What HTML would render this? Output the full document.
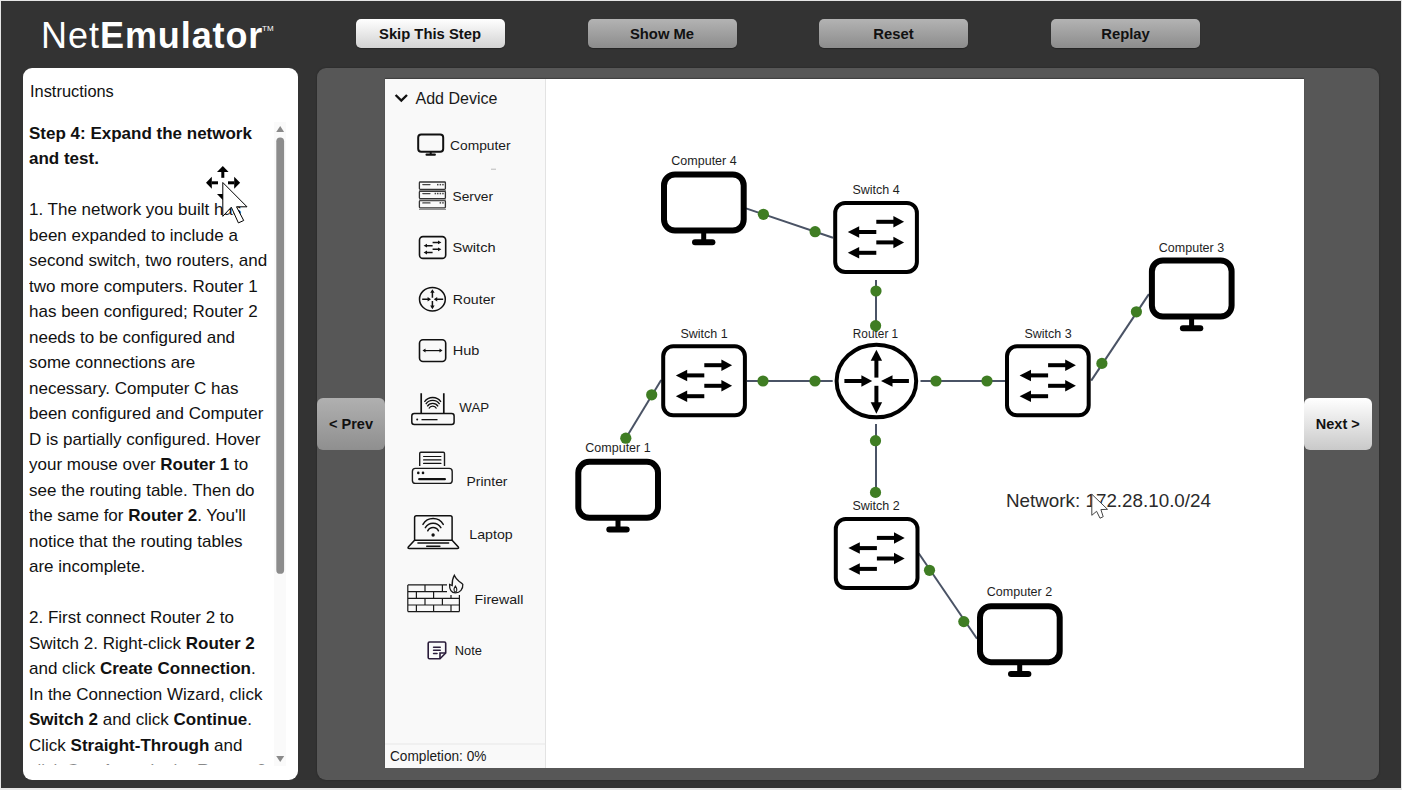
<!DOCTYPE html>
<html><head><meta charset="utf-8">
<style>
*{margin:0;padding:0;box-sizing:border-box}
html,body{width:1402px;height:790px;overflow:hidden;background:#e6e6e6}
body{font-family:"Liberation Sans",sans-serif;position:relative}
.page{position:absolute;left:1px;top:1px;width:1400px;height:787px;background:#333333}
.abs{position:absolute}
.logo{position:absolute;left:41px;top:13.8px;color:#fff;font-size:36px;line-height:44px;white-space:nowrap}
.logo .n{font-weight:normal;letter-spacing:1px}
.logo .e{font-weight:bold;letter-spacing:0.9px}
.logo .tm{position:absolute;font-size:9px;line-height:9px;top:13px;font-weight:normal}
.btn{position:absolute;top:19px;width:149px;height:29px;border-radius:5px;font-weight:bold;font-size:14.8px;color:#111;text-align:center;line-height:31px;
 background:linear-gradient(#b3b3b3,#8c8c8c);box-shadow:0 1px 1px rgba(0,0,0,.3)}
.btn.w{background:linear-gradient(#ffffff,#d2d2d2)}
.instr{position:absolute;left:23px;top:68px;width:275px;height:712px;background:#fff;border-radius:9px}
.instr .title{position:absolute;left:7px;top:80px}
.main{position:absolute;left:317px;top:68px;width:1062px;height:712px;background:#575757;border-radius:9px;box-shadow:0 0 2px rgba(0,0,0,.35)}
.canvas{position:absolute;left:385px;top:79px;width:919px;height:689.2px;background:#fff;box-shadow:0 -1px 1px rgba(0,0,0,.25)}
.side{position:absolute;left:385px;top:79px;width:161px;height:689.2px;background:#f9f9f9;border-right:1px solid #e3e3e3}
.txt{position:absolute;left:29px;top:120.6px;width:246px;height:644.4px;overflow:hidden;font-size:17px;line-height:25.5px;color:#111;white-space:nowrap}
.navbtn{position:absolute;top:398px;height:52px;border-radius:6px;font-weight:bold;font-size:14.5px;color:#111;text-align:center;line-height:52px}
</style></head><body>
<div class="page"></div>
<div class="logo"><span class="n">Net</span><span class="e">Emulator</span></div>
<div class="abs" style="left:262px;top:25px;color:#fff;font-size:8px;line-height:8px">TM</div>

<div class="btn w" style="left:355.5px">Skip This Step</div>
<div class="btn" style="left:587.5px">Show Me</div>
<div class="btn" style="left:819px">Reset</div>
<div class="btn" style="left:1051px">Replay</div>

<div class="instr"></div>
<div class="abs" style="left:30px;top:80px;font-size:16.4px;line-height:22px;color:#111">Instructions</div>
<div class="txt">
<b>Step 4: Expand the network</b><br>
<b>and test.</b><br>
<br>
1. The network you built has<br>
been expanded to include a<br>
second switch, two routers, and<br>
two more computers. Router 1<br>
has been configured; Router 2<br>
needs to be configured and<br>
some connections are<br>
necessary. Computer C has<br>
been configured and Computer<br>
D is partially configured. Hover<br>
your mouse over <b>Router 1</b> to<br>
see the routing table. Then do<br>
the same for <b>Router 2</b>. You'll<br>
notice that the routing tables<br>
are incomplete.<br>
<br>
2. First connect Router 2 to<br>
Switch 2. Right-click <b>Router 2</b><br>
and click <b>Create Connection</b>.<br>
In the Connection Wizard, click<br>
<b>Switch 2</b> and click <b>Continue</b>.<br>
Click <b>Straight-Through</b> and<br>
click <b>Continue</b>. In the <b>Router 2</b><br>
</div>

<div class="abs" style="left:29px;top:764px;width:245px;height:1px;background:rgba(255,255,255,0.5)"></div>
<!--SCROLL--><div class="abs" style="left:274px;top:122px;width:12px;height:644px;background:#fafafa"></div>
<svg class="abs" style="left:0;top:0" width="1402" height="790" viewBox="0 0 1402 790">
<path d="M276.2 132 L280.2 126.1 L284.1 132Z" fill="#8a8a8a"/>
<rect x="276.3" y="137.4" width="7.8" height="436.4" rx="3.9" fill="#8c8c8c"/>
<path d="M276.2 756 L280.2 762 L284.2 756Z" fill="#8a8a8a"/>
</svg><!--/SCROLL-->
<div class="main"></div>
<div class="canvas"></div>
<div class="side"></div>

<!--SIDE--><svg class="abs" style="left:0;top:0" width="1402" height="790" viewBox="0 0 1402 790" font-family="Liberation Sans, sans-serif"><path d="M395.6 95 L401.3 100.6 L407 95" fill="none" stroke="#111" stroke-width="2.4"/><text x="415.5" y="103.5" font-size="16.4" fill="#1a1a1a" textLength="82" lengthAdjust="spacingAndGlyphs">Add Device</text><g fill="none" stroke="#111" stroke-width="2"><rect x="418.2" y="134.4" width="25" height="17.4" rx="3"/></g><rect x="429.7" y="152" width="2" height="2.5" fill="#111"/><rect x="425.5" y="153.6" width="10.4" height="2.2" rx="1" fill="#111"/><text x="450" y="149.5" font-size="13.5" fill="#1a1a1a" textLength="60.6" lengthAdjust="spacingAndGlyphs">Computer</text><rect x="491" y="168.7" width="5" height="1" fill="#bbb"/><g fill="none" stroke="#333" stroke-width="1.3"><rect x="419.4" y="182" width="26" height="7.3" rx="0.8"/><rect x="419.4" y="191.3" width="26" height="7.3" rx="0.8"/><rect x="419.4" y="200.6" width="26" height="7.3" rx="0.8"/></g><g fill="#444"><rect x="422.2" y="184.0" width="8.4" height="1.2" rx="0.6"/><rect x="422.2" y="193.0" width="8.4" height="1.2" rx="0.6"/><rect x="422.2" y="202.3" width="8.4" height="1.2" rx="0.6"/><rect x="437" y="183.9" width="1.5" height="1.5"/><rect x="439.6" y="183.9" width="1.5" height="1.5"/><rect x="442.2" y="183.9" width="1.5" height="1.5"/><rect x="434.6" y="192.8" width="1.5" height="1.5"/><rect x="437" y="192.8" width="1.5" height="1.5"/><rect x="439.6" y="192.8" width="1.5" height="1.5"/><rect x="442.2" y="192.8" width="1.5" height="1.5"/><rect x="439.6" y="202.1" width="1.5" height="1.5"/><rect x="442.2" y="202.1" width="1.5" height="1.5"/><rect x="419" y="208.8" width="27" height="1" fill="#777"/><rect x="419" y="199.4" width="27" height="1" fill="#777"/><rect x="419" y="190.1" width="27" height="1" fill="#777"/></g><text x="452.5" y="200.8" font-size="13.5" fill="#1a1a1a" textLength="40.5" lengthAdjust="spacingAndGlyphs">Server</text><rect x="419.5" y="236.6" width="26.2" height="21.8" rx="3.5" fill="none" stroke="#111" stroke-width="1.6"/><g fill="none" stroke="#111" stroke-width="1.5"><path d="M432.6 242.4 H438.5 M426.5 245.7 H432.6 M432.6 249.3 H438.5 M426.5 252.5 H432.6"/></g><g fill="#111"><path d="M438 240.5 L441.4 242.4 L438 244.3Z M427 243.8 L423.6 245.7 L427 247.6Z M438 247.4 L441.4 249.3 L438 251.2Z M427 250.6 L423.6 252.5 L427 254.4Z"/></g><text x="452.5" y="252" font-size="13.5" fill="#1a1a1a" textLength="43.1" lengthAdjust="spacingAndGlyphs">Switch</text><ellipse cx="432.4" cy="299.2" rx="12.9" ry="11.8" fill="none" stroke="#111" stroke-width="1.5"/><g stroke="#111" stroke-width="1.5"><path d="M432.4 291 V297.7 M432.4 300.9 V307.5 M422.2 299.2 H428.5 M436.3 299.2 H443.2"/></g><g fill="#111"><path d="M430.2 292.8 L432.4 289.2 L434.6 292.8Z M430.2 305.6 L432.4 309.3 L434.6 305.6Z M427.6 296.9 L431 299.2 L427.6 301.5Z M437.2 296.9 L433.8 299.2 L437.2 301.5Z"/></g><text x="452.8" y="303.9" font-size="13.5" fill="#1a1a1a" textLength="42.4" lengthAdjust="spacingAndGlyphs">Router</text><rect x="419.5" y="339.7" width="26.2" height="21.8" rx="3.5" fill="none" stroke="#111" stroke-width="1.6"/><path d="M425 350.6 H440" stroke="#111" stroke-width="1.2"/><path d="M425.5 348.6 L422.5 350.6 L425.5 352.6Z M439.5 348.6 L442.5 350.6 L439.5 352.6Z" fill="#111"/><text x="452.8" y="355.4" font-size="13.5" fill="#1a1a1a" textLength="26.6" lengthAdjust="spacingAndGlyphs">Hub</text><g fill="none" stroke="#111"><path d="M421.2 393.2 V413.5 M443.8 393.2 V413.5" stroke-width="1.7"/><rect x="411.8" y="413.6" width="42.3" height="10.9" rx="2.5" stroke-width="1.5"/><path d="M424.45 401.80 A10.06 10.06 0 0 1 440.95 401.80 M425.80 404.10 A8.28 8.28 0 0 1 439.60 404.10 M427.30 406.30 A6.36 6.36 0 0 1 438.10 406.30 M428.90 408.50 A4.29 4.29 0 0 1 436.50 408.50 " stroke-width="1.3"/></g><circle cx="417.2" cy="419.6" r="1" fill="#111"/><rect x="421.5" y="419" width="16" height="1.3" fill="#111"/><text x="459.3" y="411.6" font-size="13.5" fill="#1a1a1a" textLength="29.9" lengthAdjust="spacingAndGlyphs">WAP</text><g fill="none" stroke="#1a1a1a" stroke-width="1.4"><path d="M419.7 466 V453.5 Q419.7 452.3 420.9 452.3 H443.3 Q444.5 452.3 444.5 453.5 V466"/><rect x="412.4" y="468.4" width="39.8" height="15" rx="3"/></g><g fill="#111"><rect x="423" y="455.9" width="18.5" height="1.2" rx="0.6"/><rect x="423" y="459.3" width="18.5" height="1.2" rx="0.6"/><rect x="423" y="462.8" width="18.5" height="1.2" rx="0.6"/><circle cx="418.3" cy="472.9" r="1.3"/><circle cx="423" cy="472.9" r="1.3"/><rect x="418.1" y="478" width="27.9" height="2.3" rx="1.15"/></g><text x="466.6" y="486.3" font-size="13.5" fill="#1a1a1a" textLength="40.9" lengthAdjust="spacingAndGlyphs">Printer</text><g fill="none" stroke="#111" stroke-width="1.5" stroke-linecap="round"><path d="M414.6 540.3 V517.6 Q414.6 515.8 416.4 515.8 H450.3 Q452.1 515.8 452.1 517.6 V540.3 Z"/><path d="M414.6 540.3 L408.3 547 Q407.4 548.6 409.3 548.6 H457.3 Q459.2 548.6 458.3 547 L452.1 540.3"/><path d="M422.95 524.40 A11.78 11.78 0 0 1 443.25 524.40 M425.35 527.60 A9.03 9.03 0 0 1 440.85 527.60 M427.75 530.80 A5.99 5.99 0 0 1 438.45 530.80 "/></g><circle cx="433.1" cy="535" r="1.7" fill="#111"/><rect x="417.2" y="542.3" width="32.2" height="1.5" rx="0.75" fill="#111"/><rect x="426" y="545.5" width="14.6" height="1.4" rx="0.7" fill="#111"/><text x="469.3" y="538.7" font-size="13.5" fill="#1a1a1a" textLength="43.4" lengthAdjust="spacingAndGlyphs">Laptop</text><g fill="none" stroke="#1a1a1a" stroke-width="1.2"><path d="M407.8 584.9 H447 M407.8 591.6 H447 M407.8 598.3 H459.4 M407.8 605 H459.4 M407.8 611.6 H459.4 M407.8 584.9 V611.6 M459.4 594.9 V611.6 M425 584.9 V591.6 M442.4 584.9 V591.6 M416.4 591.6 V598.3 M433.6 591.6 V598.3 M451 594.9 V598.3 M425 598.3 V605 M442.4 598.3 V605 M416.4 605 V611.6 M433.6 605 V611.6 M451 605 V611.6"/><path d="M455.5 592.8 C451.5 592.8 449.2 589.5 449.6 584.5 L452.2 585.6 C452 581.5 453 577.5 454.3 575.3 C455.5 578.2 457.5 580 459 581.3 C461 582.8 462.2 583.6 462.8 584.3 C463.2 589.2 460 592.8 455.5 592.8 Z" stroke-width="1.3"/><path d="M455.5 592 C453.6 591.6 453.5 588.5 455.4 586 C457.2 588.5 457.3 591.6 455.5 592Z" stroke-width="1.1"/></g><text x="474.6" y="604.1" font-size="13.5" fill="#1a1a1a" textLength="48.8" lengthAdjust="spacingAndGlyphs">Firewall</text><g fill="none" stroke="#2a1c3a" stroke-width="1.6"><path d="M440 658.7 H429.5 Q428.2 658.7 428.2 657.4 V643.3 Q428.2 642 429.5 642 H444.4 Q445.7 642 445.7 643.3 V653 Z"/><path d="M440 658.7 V653 H445.7"/><path d="M433.6 647.2 H440.2 M433.6 650.3 H440.2 M433.6 653.5 H437" stroke-linecap="round" stroke-width="1.6"/></g><text x="454.7" y="654.9" font-size="13.5" fill="#1a1a1a" textLength="27.2" lengthAdjust="spacingAndGlyphs">Note</text><rect x="385" y="743.5" width="160.5" height="1" fill="#e8e8e8"/><text x="390" y="761.1" font-size="14.2" fill="#1a1a1a" textLength="96.4" lengthAdjust="spacingAndGlyphs">Completion: 0%</text></svg><!--/SIDE-->
<!--NET--><svg class="abs" style="left:0;top:0" width="1402" height="790" viewBox="0 0 1402 790" font-family="Liberation Sans, sans-serif"><line x1="746" y1="208.4" x2="833" y2="237.7" stroke="#4a5365" stroke-width="2"/><line x1="876" y1="280" x2="876" y2="326" stroke="#4a5365" stroke-width="2"/><line x1="747" y1="381" x2="832.7" y2="381" stroke="#4a5365" stroke-width="2"/><line x1="920.5" y1="381" x2="1005" y2="381" stroke="#4a5365" stroke-width="2"/><line x1="1091.2" y1="380.6" x2="1148.9" y2="294.1" stroke="#4a5365" stroke-width="2"/><line x1="661.2" y1="380" x2="625.8" y2="438.2" stroke="#4a5365" stroke-width="2"/><line x1="876" y1="424" x2="876" y2="492.4" stroke="#4a5365" stroke-width="2"/><line x1="918.7" y1="553.2" x2="977" y2="638.8" stroke="#4a5365" stroke-width="2"/><text x="704" y="165.4" text-anchor="middle" font-size="12.5" fill="#1e1e1e">Computer 4</text><text x="876" y="193.9" text-anchor="middle" font-size="12.5" fill="#1e1e1e">Switch 4</text><text x="875.5" y="337.7" text-anchor="middle" font-size="12.5" fill="#1e1e1e" textLength="45.4" lengthAdjust="spacingAndGlyphs">Router 1</text><text x="704" y="337.9" text-anchor="middle" font-size="12.5" fill="#1e1e1e">Switch 1</text><text x="1048" y="337.9" text-anchor="middle" font-size="12.5" fill="#1e1e1e">Switch 3</text><text x="1191.5" y="251.9" text-anchor="middle" font-size="12.5" fill="#1e1e1e">Computer 3</text><text x="618" y="452.2" text-anchor="middle" font-size="12.5" fill="#1e1e1e">Computer 1</text><text x="876" y="509.5" text-anchor="middle" font-size="12.5" fill="#1e1e1e">Switch 2</text><text x="1019.5" y="596" text-anchor="middle" font-size="12.5" fill="#1e1e1e">Computer 2</text><g transform="translate(661,171.5)"><rect x="3" y="3" width="79.7" height="56" rx="11" fill="#fff" stroke="#000" stroke-width="6"/><rect x="40.2" y="61" width="5" height="8" fill="#000"/><rect x="31" y="67.7" width="23.4" height="6" rx="3" fill="#000"/></g><g transform="translate(575.3,458.8)"><rect x="3" y="3" width="79.7" height="56" rx="11" fill="#fff" stroke="#000" stroke-width="6"/><rect x="40.2" y="61" width="5" height="8" fill="#000"/><rect x="31" y="67.7" width="23.4" height="6" rx="3" fill="#000"/></g><g transform="translate(1148.9,257.5)"><rect x="3" y="3" width="79.7" height="56" rx="11" fill="#fff" stroke="#000" stroke-width="6"/><rect x="40.2" y="61" width="5" height="8" fill="#000"/><rect x="31" y="67.7" width="23.4" height="6" rx="3" fill="#000"/></g><g transform="translate(977,603.2)"><rect x="3" y="3" width="79.7" height="56" rx="11" fill="#fff" stroke="#000" stroke-width="6"/><rect x="40.2" y="61" width="5" height="8" fill="#000"/><rect x="31" y="67.7" width="23.4" height="6" rx="3" fill="#000"/></g><g transform="translate(833.2,200.9)"><rect x="2" y="2" width="81.7" height="69" rx="10" fill="#fff" stroke="#000" stroke-width="4"/><rect x="43.1" y="18.9" width="18" height="4"/><path d="M60.2 15.149999999999999 L70.9 20.9 L60.2 26.65Z"/><rect x="43.1" y="39.5" width="18" height="4"/><path d="M60.2 35.75 L70.9 41.5 L60.2 47.25Z"/><rect x="25" y="29.1" width="18.1" height="4"/><path d="M26 25.35 L14.6 31.1 L26 36.85Z"/><rect x="25" y="49.9" width="18.1" height="4"/><path d="M26 46.15 L14.6 51.9 L26 57.65Z"/></g><g transform="translate(661.2,344.3)"><rect x="2" y="2" width="81.7" height="69" rx="10" fill="#fff" stroke="#000" stroke-width="4"/><rect x="43.1" y="18.9" width="18" height="4"/><path d="M60.2 15.149999999999999 L70.9 20.9 L60.2 26.65Z"/><rect x="43.1" y="39.5" width="18" height="4"/><path d="M60.2 35.75 L70.9 41.5 L60.2 47.25Z"/><rect x="25" y="29.1" width="18.1" height="4"/><path d="M26 25.35 L14.6 31.1 L26 36.85Z"/><rect x="25" y="49.9" width="18.1" height="4"/><path d="M26 46.15 L14.6 51.9 L26 57.65Z"/></g><g transform="translate(1005,344.3)"><rect x="2" y="2" width="81.7" height="69" rx="10" fill="#fff" stroke="#000" stroke-width="4"/><rect x="43.1" y="18.9" width="18" height="4"/><path d="M60.2 15.149999999999999 L70.9 20.9 L60.2 26.65Z"/><rect x="43.1" y="39.5" width="18" height="4"/><path d="M60.2 35.75 L70.9 41.5 L60.2 47.25Z"/><rect x="25" y="29.1" width="18.1" height="4"/><path d="M26 25.35 L14.6 31.1 L26 36.85Z"/><rect x="25" y="49.9" width="18.1" height="4"/><path d="M26 46.15 L14.6 51.9 L26 57.65Z"/></g><g transform="translate(833.8,517)"><rect x="2" y="2" width="81.7" height="69" rx="10" fill="#fff" stroke="#000" stroke-width="4"/><rect x="43.1" y="18.9" width="18" height="4"/><path d="M60.2 15.149999999999999 L70.9 20.9 L60.2 26.65Z"/><rect x="43.1" y="39.5" width="18" height="4"/><path d="M60.2 35.75 L70.9 41.5 L60.2 47.25Z"/><rect x="25" y="29.1" width="18.1" height="4"/><path d="M26 25.35 L14.6 31.1 L26 36.85Z"/><rect x="25" y="49.9" width="18.1" height="4"/><path d="M26 46.15 L14.6 51.9 L26 57.65Z"/></g><g transform="translate(876.4,381)"><ellipse cx="0" cy="0" rx="39.8" ry="36.3" fill="#fff" stroke="#000" stroke-width="4"/><rect x="-2" y="-21" width="4" height="17.6"/><path d="M-5.7 -20.2 L0 -31.3 L5.7 -20.2Z"/><rect x="-2" y="4.8" width="4" height="17.3"/><path d="M-5.7 21.3 L0 32.7 L5.7 21.3Z"/><rect x="-32" y="-2" width="17.8" height="4"/><path d="M-15 -5.7 L-4.2 0 L-15 5.7Z"/><rect x="15.3" y="-2" width="17.2" height="4"/><path d="M16.1 -5.7 L4.6 0 L16.1 5.7Z"/></g><circle cx="763.4" cy="214.3" r="5.6" fill="#3f7d23"/><circle cx="815.1" cy="231.7" r="5.6" fill="#3f7d23"/><circle cx="876" cy="291" r="5.6" fill="#3f7d23"/><circle cx="875.6" cy="325.7" r="5.6" fill="#3f7d23"/><circle cx="763" cy="381" r="5.6" fill="#3f7d23"/><circle cx="815" cy="381" r="5.6" fill="#3f7d23"/><circle cx="936" cy="381" r="5.6" fill="#3f7d23"/><circle cx="987" cy="381" r="5.6" fill="#3f7d23"/><circle cx="1101.9" cy="363.4" r="5.6" fill="#3f7d23"/><circle cx="1136.4" cy="311.8" r="5.6" fill="#3f7d23"/><circle cx="651.7" cy="394.8" r="5.6" fill="#3f7d23"/><circle cx="625.8" cy="438.2" r="5.6" fill="#3f7d23"/><circle cx="875.5" cy="440.7" r="5.6" fill="#3f7d23"/><circle cx="875.5" cy="492.4" r="5.6" fill="#3f7d23"/><circle cx="929.5" cy="570.3" r="5.6" fill="#3f7d23"/><circle cx="963.8" cy="621.6" r="5.6" fill="#3f7d23"/><text x="1006" y="507" font-size="18.6" fill="#2a2a2a" textLength="205" lengthAdjust="spacingAndGlyphs">Network: 172.28.10.0/24</text></svg><!--/NET-->
<div class="navbtn" style="left:317px;width:68px;background:linear-gradient(#b0b0b0,#8f8f8f)">&lt; Prev</div>
<div class="navbtn" style="left:1303.5px;width:68.5px;background:linear-gradient(#ffffff,#c9c9c9)">Next &gt;</div>

<!--CUR--><svg class="abs" style="left:0;top:0" width="1402" height="790" viewBox="0 0 1402 790">
<g fill="#000">
<path d="M217 172.1 L222.8 165.9 L228.6 172.1Z"/><rect x="221.3" y="172" width="3" height="5.8"/>
<path d="M211.8 176.8 L206 182.8 L211.8 188.7Z"/><rect x="211.7" y="181.3" width="6.3" height="3"/>
<path d="M234.2 176.8 L240.1 182.8 L234.2 188.7Z"/><rect x="228" y="181.3" width="6.3" height="3"/>
<path d="M217 194 L228.6 194 L222.8 200Z"/>
</g>
<path d="M222.8 182.5 L222.8 216.3 L231.3 207.2 L238.4 222.9 L243.7 220.5 L236.5 206.8 L247 206.8Z" fill="#fff" stroke="#000" stroke-width="1" stroke-linejoin="miter"/>
<path d="M1091.8 494.2 L1091.8 515.3 L1096.6 511.3 L1100 518.2 L1103.2 516.7 L1100.9 509.6 L1107.5 509.3Z" fill="#fff" stroke="#444" stroke-width="1"/>
</svg><!--/CUR-->
</body></html>
